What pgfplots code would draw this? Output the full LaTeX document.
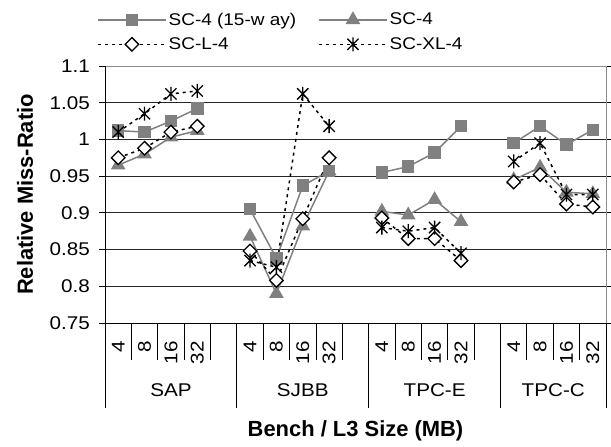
\documentclass[border=0pt]{standalone}
\usepackage{pgfplots}
\usepackage{pgfplotstable}
\pgfplotsset{compat=1.18}
\usepackage{fontspec}
\setmainfont{Liberation Sans}[FakeStretch=1.12]
\newfontfamily\plainfont{Liberation Sans}

\definecolor{exgray}{HTML}{808080}
\definecolor{frame}{HTML}{8C8C8C}

% excel-like star: X plus a vertical bar
\pgfdeclareplotmark{xstar}{%
  \pgfpathmoveto{\pgfpoint{0pt}{-\pgfplotmarksize}}%
  \pgfpathlineto{\pgfpoint{0pt}{\pgfplotmarksize}}%
  \pgfpathmoveto{\pgfpoint{-0.8\pgfplotmarksize}{-0.8\pgfplotmarksize}}%
  \pgfpathlineto{\pgfpoint{0.8\pgfplotmarksize}{0.8\pgfplotmarksize}}%
  \pgfpathmoveto{\pgfpoint{-0.8\pgfplotmarksize}{0.8\pgfplotmarksize}}%
  \pgfpathlineto{\pgfpoint{0.8\pgfplotmarksize}{-0.8\pgfplotmarksize}}%
  \pgfusepathqstroke}

% SC-4 (15-way)
\pgfplotstableread{
x y
0.5 1.012
1.5 1.010
2.5 1.025
3.5 1.042
4.5 nan
5.5 0.905
6.5 0.838
7.5 0.937
8.5 0.957
9.5 nan
10.5 0.955
11.5 0.963
12.5 0.982
13.5 1.018
14.5 nan
15.5 0.995
16.5 1.018
17.5 0.993
18.5 1.013
}\scfifteen

% SC-4
\pgfplotstableread{
x y
0.5 0.965
1.5 0.980
2.5 1.003
3.5 1.012
4.5 nan
5.5 0.868
6.5 0.790
7.5 0.882
8.5 0.957
9.5 nan
10.5 0.902
11.5 0.897
12.5 0.918
13.5 0.888
14.5 nan
15.5 0.945
16.5 0.962
17.5 0.928
18.5 0.926
}\scfour

% SC-L-4
\pgfplotstableread{
x y
0.5 0.975
1.5 0.988
2.5 1.010
3.5 1.018
4.5 nan
5.5 0.848
6.5 0.808
7.5 0.892
8.5 0.975
9.5 nan
10.5 0.893
11.5 0.865
12.5 0.865
13.5 0.835
14.5 nan
15.5 0.942
16.5 0.952
17.5 0.912
18.5 0.908
}\scl

% SC-XL-4
\pgfplotstableread{
x y
0.5 1.010
1.5 1.035
2.5 1.062
3.5 1.066
4.5 nan
5.5 0.835
6.5 0.826
7.5 1.062
8.5 1.018
9.5 nan
10.5 0.880
11.5 0.875
12.5 0.880
13.5 0.845
14.5 nan
15.5 0.970
16.5 0.995
17.5 0.925
18.5 0.925
}\scxl

\begin{document}
\begin{tikzpicture}
\path[use as bounding box] (-105bp,-124bp) rectangle (506bp,323bp);
\begin{axis}[
  scale only axis,
  width=501bp, height=257bp,
  xmin=0, xmax=19, ymin=0.75, ymax=1.1,
  clip=false,
  unbounded coords=jump,
  ytick={0.75,0.8,0.85,0.9,0.95,1,1.05,1.1},
  yticklabels={0.75,0.8,0.85,0.9,0.95,1,1.05,1.1},
  xtick={0.5,1.5,2.5,3.5,5.5,6.5,7.5,8.5,10.5,11.5,12.5,13.5,15.5,16.5,17.5,18.5},
  xticklabels={4,8,16,32,4,8,16,32,4,8,16,32,4,8,16,32},
  x tick label style={rotate=90, anchor=east, inner sep=0pt},
  xticklabel shift=12bp,
  xtick style={draw=none},
  ytick style={black, line width=0.8bp},
  tick align=outside, major tick length=6bp,
  y tick label style={inner sep=0pt},
  yticklabel shift=9bp,
  tick label style={font=\fontsize{18.5}{21}\selectfont},
  /pgf/number format/assume math mode=true,
  ymajorgrids,
  grid style={black!85, line width=0.8bp},
  axis line style={frame, line width=0.8bp},
  legend columns=2,
  legend cell align=left,
  legend style={draw=none, fill=none, inner sep=0pt,
    at={(axis description cs:-0.016,1.05)}, anchor=south west,
    font=\fontsize{17}{20}\selectfont,
    /tikz/every even column/.append style={column sep=20bp},
    row sep=7bp},
  legend image code/.code={%
    \draw[mark repeat=2,mark phase=2,#1] plot coordinates {(0bp,0bp) (34bp,0bp) (68bp,0bp)};},
]
\addplot[exgray, line width=1.5bp, mark=square*, mark size=5.5bp,
  mark options={solid, fill=exgray, draw=exgray}] table {\scfifteen};
\addlegendentry{SC-4 (15-w ay)}
\addplot[exgray, line width=1.5bp, mark=triangle*, mark size=7bp,
  mark options={solid, fill=exgray, draw=exgray}] table {\scfour};
\addlegendentry{SC-4}
\addplot[black, line width=1.5bp, dash pattern=on 3bp off 4bp, mark=square*, mark size=4.8bp,
  mark options={solid, rotate=45, fill=white, draw=black, line width=1.3bp}] table {\scl};
\addlegendentry{SC-L-4}
\addplot[black, line width=1.5bp, dash pattern=on 3bp off 4bp, mark=xstar, mark size=7bp,
  mark options={solid, draw=black, line width=1.3bp}] table {\scxl};
\addlegendentry{SC-XL-4}

% black left and bottom axis lines
\draw[black, line width=0.8bp] (axis cs:0,1.1) -- (axis cs:0,0.75) -- (axis cs:19,0.75);
% category separators
\pgfplotsinvokeforeach{1,2,3,4,6,7,8,9,11,12,13,14,16,17,18}{
  \draw[black, line width=0.8bp] (axis cs:#1,0.75) -- ([yshift=-37bp]axis cs:#1,0.75);
}
\pgfplotsinvokeforeach{0,5,10,15,19}{
  \draw[black, line width=0.8bp] (axis cs:#1,0.75) -- ([yshift=-85bp]axis cs:#1,0.75);
}
% group labels
\node[font=\fontsize{18.5}{21}\selectfont] at ([yshift=-67bp]axis cs:2.5,0.75) {SAP};
\node[font=\fontsize{18.5}{21}\selectfont] at ([yshift=-67bp]axis cs:7.5,0.75) {SJBB};
\node[font=\fontsize{18.5}{21}\selectfont] at ([yshift=-67bp]axis cs:12.5,0.75) {TPC-E};
\node[font=\fontsize{18.5}{21}\selectfont] at ([yshift=-67bp]axis cs:17,0.75) {TPC-C};
% axis titles
\node[font=\plainfont\fontsize{22}{24}\selectfont\bfseries] at ([yshift=-108bp]axis cs:9.5,0.75) {Bench / L3 Size (MB)};
\node[font=\plainfont\fontsize{22}{24}\selectfont\bfseries, rotate=90] at ([xshift=-80bp]axis cs:0,0.925) {Relative Miss-Ratio};
\end{axis}
\end{tikzpicture}
\end{document}
